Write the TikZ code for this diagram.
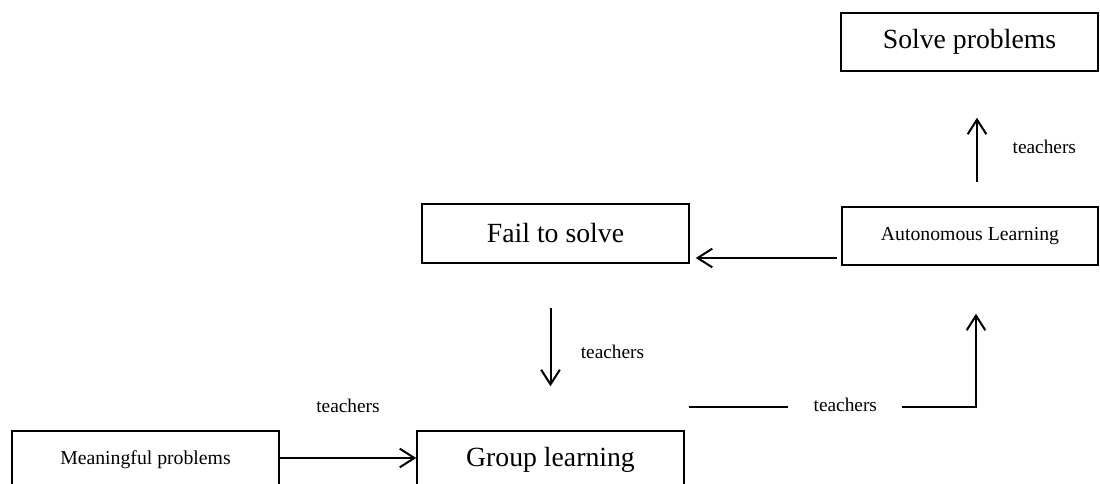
\documentclass[tikz,border=0pt]{standalone}
\usepackage{fontspec}
\setmainfont{Liberation Serif}
\usetikzlibrary{positioning,arrows.meta}

\begin{document}
\begin{tikzpicture}[x=0.75pt,y=-0.75pt,
  stage/.style={draw,line width=1.1pt,inner sep=0pt,minimum height=43.5pt,font=\fontsize{20.8}{25}\selectfont},
  smallstage/.style={stage,font=\fontsize{14.8}{18}\selectfont},
  flow/.style={line width=1.5pt,-{Straight Barb[length=11pt,width=14pt]}},
  who/.style={inner sep=0pt,font=\fontsize{14.5}{17}\selectfont}]
\useasboundingbox (0,0) rectangle (1100,484);
\clip (0,0) rectangle (1100,484);

% the boxes
\node[stage,minimum width=192.75pt] (solve) at (969.5,42) {Solve problems};
\node[smallstage,minimum width=192pt] (auto) at (970,236) {Autonomous Learning};
\node[stage,minimum width=200.25pt,minimum height=44.25pt] (fail) at (555.5,233.5) {Fail to solve};
\node[stage,minimum width=200.25pt] (group) at (550.5,460) {Group learning};
\node[smallstage,minimum width=200.25pt] (mean) at (145.5,460) {Meaningful problems};

% the arrows
\draw[flow] ([yshift=1.5pt]mean.east) -- ([yshift=1.5pt]group.west) node[who,midway,yshift=39pt]{teachers};
\draw[flow,shorten <=33pt,shorten >=33pt] (fail.south -| group.north) -- (group.north) node[who,midway,right=22pt,yshift=-4pt]{teachers};
\draw[flow,shorten <=3pt,shorten >=4.5pt] ([yshift=-16.5pt]auto.west) -- ([yshift=-16.5pt]auto.west -| fail.east);
\draw[flow,shorten <=18pt,shorten >=34.5pt] ([xshift=5.25pt]auto.north) -- ([xshift=5.25pt]auto.north |- solve.south) node[who,midway,right=26pt,yshift=-6pt]{teachers};
\coordinate (g1) at ([xshift=3pt,yshift=17.25pt]group.north east);
\coordinate (a1) at ([xshift=4.5pt]auto.south);
\draw[flow,shorten >=36pt] (g1) -- node[who,pos=0.545,fill=white,inner xsep=19pt,inner ysep=3pt,yshift=2pt]{teachers} (g1 -| a1) -- (a1);
\end{tikzpicture}
\end{document}
